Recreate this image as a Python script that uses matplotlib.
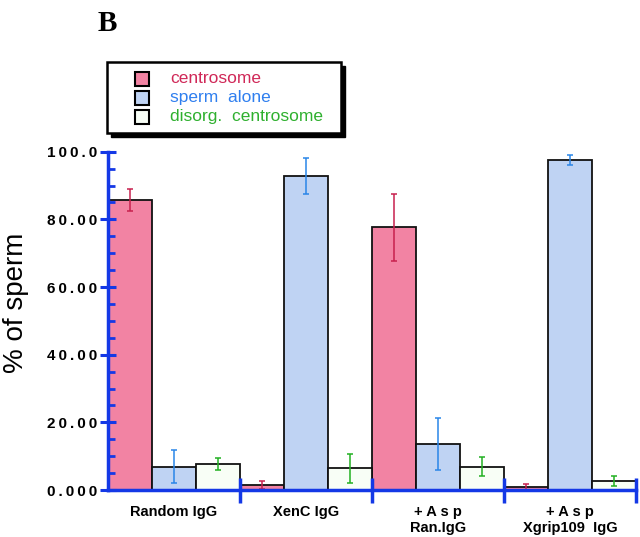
import numpy as np
import matplotlib
matplotlib.use("Agg")
import matplotlib.pyplot as plt
from matplotlib.patches import Rectangle
from matplotlib.ticker import MultipleLocator, FixedLocator

plt.rcParams['font.family'] = ['Liberation Sans', 'DejaVu Sans']

groups = ["Random IgG", "XenC IgG", "+Asp\nRan.IgG", "+Asp\nXgrip109  IgG"]
series = ["centrosome", "sperm  alone", "disorg.  centrosome"]

centrosome = [85.7, 1.5, 77.6, 0.9]
centrosome_err = [3.3, 1.3, 10.0, 0.8]
sperm_alone = [6.9, 92.9, 13.6, 97.5]
sperm_alone_err = [4.8, 5.3, 7.8, 1.5]
disorg = [7.7, 6.4, 6.9, 2.7]
disorg_err = [1.7, 4.2, 2.9, 1.5]

yticks = [0, 20, 40, 60, 80, 100]
ytick_labels = ["0.000", "20.00", "40.00", "60.00", "80.00", "100.0"]

fills = ["#F283A3", "#BFD3F3", "#F8FEF6"]
errcols = ["#C8204E", "#2A86E8", "#22B022"]
textcols = ["#D02858", "#2F7FEF", "#2FB02F"]
axcol = "#1438E6"

def spaced(s):
    return "\u2009".join(s)

W, H = 640, 537
fig = plt.figure(figsize=(6.4, 5.37), dpi=100)
ax = fig.add_axes([108/W, 1-490/H, 528/W, (490-151.7)/H])
ax.set_axisbelow(False)

x = np.arange(len(groups)) * 3
data = [(centrosome, centrosome_err), (sperm_alone, sperm_alone_err), (disorg, disorg_err)]
for k, (vals, errs) in enumerate(data):
    ax.bar(x + k + 0.5, vals, width=1.0, color=fills[k], edgecolor="#111111",
           linewidth=1.3, zorder=2)
    ax.errorbar(x + k + 0.5, vals, yerr=errs, fmt="none", ecolor=errcols[k],
                elinewidth=1.1, capsize=2.5, capthick=1.1, zorder=3)

ax.set_xlim(0, 12)
ax.set_ylim(0, 100)

for s in ["top", "right"]:
    ax.spines[s].set_visible(False)
for s in ["left", "bottom"]:
    ax.spines[s].set_color(axcol)
    ax.spines[s].set_linewidth(2.5)
    ax.spines[s].set_zorder(4)

ax.set_yticks(yticks)
ax.set_yticklabels([spaced(t) for t in ytick_labels], fontsize=11, fontweight="bold")
ax.yaxis.set_minor_locator(MultipleLocator(5))
ax.tick_params(axis="y", which="major", direction="inout", length=12, width=2.2, color=axcol, pad=2)
ax.tick_params(axis="y", which="minor", direction="in", length=5, width=2, color=axcol)

ax.xaxis.set_major_locator(FixedLocator([3, 6, 9, 12]))
ax.xaxis.set_major_formatter(plt.NullFormatter())
ax.xaxis.set_minor_locator(FixedLocator(x + 1.5))
ax.set_xticklabels([g.replace("+Asp", "+ A s p") for g in groups], minor=True,
                   fontsize=10.5, fontweight="bold", linespacing=1.15)
ax.tick_params(axis="x", which="major", direction="inout", length=18, width=2.5, color=axcol)
ax.tick_params(axis="x", which="minor", length=0, pad=11)

fig.text(16/W, 1-303/H, "% of sperm", rotation=90, ha="center", va="center", fontsize=20)
fig.text(98/W, 1-31/H, "B", fontsize=21, fontweight="bold", family="Liberation Serif")

# legend box drawn by hand, with its black drop shadow
fig.patches.append(Rectangle((111/W, 1-137/H), 234/W, 71/H, transform=fig.transFigure,
                             facecolor="black", edgecolor="black", zorder=5))
fig.patches.append(Rectangle((107/W, 1-133/H), 234/W, 71/H, transform=fig.transFigure,
                             facecolor="white", edgecolor="black", linewidth=1.8, zorder=6))
rows = [78.5, 97.5, 116.5]
for k, name in enumerate(series):
    fig.patches.append(Rectangle((135/W, 1-(rows[k]+7)/H), 14/W, 14/H, transform=fig.transFigure,
                                 facecolor=fills[k], edgecolor="black", linewidth=1.5, zorder=7))
    fig.text(170/W, 1-rows[k]/H, name, color=textcols[k], fontsize=12.5,
             va="center", ha="left", zorder=8)

fig.savefig("out.png", dpi=100)
